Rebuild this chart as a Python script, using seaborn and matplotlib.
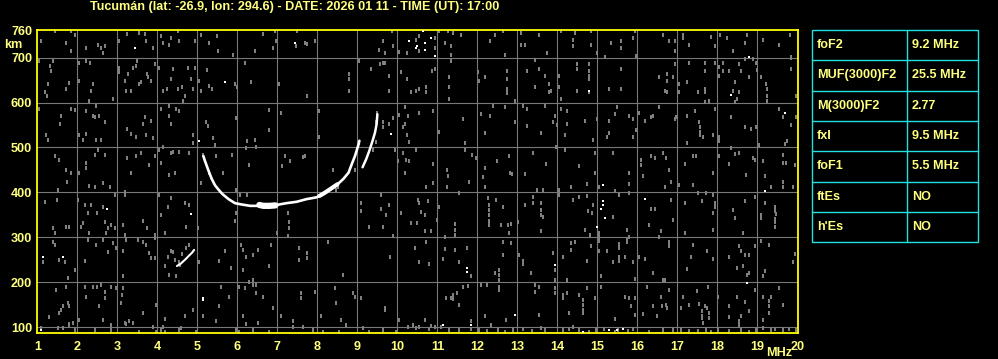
import matplotlib
matplotlib.use("Agg")
import matplotlib.pyplot as plt
import seaborn as sns
import pandas as pd
from matplotlib import font_manager as fm
from matplotlib.patches import Rectangle
from matplotlib.lines import Line2D

# ---------------- chart data ----------------
title = "Tucumán (lat: -26.9, lon: 294.6) - DATE: 2026 01 11 - TIME (UT): 17:00"
x_ticks = list(range(1, 21))
y_ticks = [100, 200, 300, 400, 500, 600, 700, 760]
x_grid = list(range(2, 20))
y_grid = [100, 200, 300, 400, 500, 600, 700]

table_params = ["foF2", "MUF(3000)F2", "M(3000)F2", "fxI", "foF1", "ftEs", "h'Es"]
table_values = ["9.2 MHz", "25.5 MHz", "2.77", "9.5 MHz", "5.5 MHz", "NO", "NO"]

# ordinary F trace (MHz, km)
o_trace_f = [5.15, 5.19, 5.28, 5.36, 5.44, 5.53, 5.63, 5.78, 5.94, 6.11, 6.32, 6.57, 6.78, 6.98,
             7.23, 7.48, 7.73, 7.98, 8.15, 8.32, 8.48, 8.65, 8.78, 8.86, 8.94, 9.03, 9.05]
o_trace_h = [481, 470, 448, 430, 416, 406, 396, 385, 376, 373, 370, 370, 370, 372,
             376, 379, 385, 389, 396, 407, 416, 430, 444, 463, 481, 507, 515]
# thick part of the trace near the minimum virtual height
o_blob_f = [6.55, 6.65, 6.8, 6.95]
o_blob_h = [372, 370, 370, 371]
# thicker part on the rising branch
o_thick_f = [8.05, 8.2, 8.35, 8.5]
o_thick_h = [392, 400, 409, 418]
# extraordinary trace
x_trace_f = [9.13, 9.22, 9.30, 9.38, 9.44, 9.48, 9.50]
x_trace_h = [456, 474, 493, 515, 533, 552, 574]
# weak lower trace
low_trace_f = [4.49, 4.58, 4.68, 4.78, 4.87, 4.92]
low_trace_h = [236, 241, 249, 258, 266, 272]

# bright isolated echoes (MHz, km)
white_dots = [(5.03, 515), (3.44, 721), (7.43, 733), (10.28, 737), (10.47, 722), (5.69, 645),
              (5.03, 514), (9.84, 529), (10.63, 760), (10.84, 743), (10.70, 733), (10.50, 726),
              (10.68, 717), (10.93, 703), (18.78, 702), (14.78, 626), (18.33, 617), (19.70, 577),
              (2.73, 364), (4.85, 352), (1.13, 257), (1.63, 257), (5.13, 164), (5.13, 160),
              (1.09, 94), (15.13, 417), (15.13, 381), (15.13, 373), (15.09, 364), (15.19, 344),
              (14.99, 324), (16.18, 385), (19.18, 403), (11.73, 231), (11.73, 222), (13.93, 238),
              (18.73, 198), (12.94, 126), (11.13, 104), (11.83, 104), (14.63, 90), (15.30, 94),
              (15.49, 94), (15.63, 95)]

# grey background noise, upper-left part
noise_upper_left = [
    (1.09, 737), (1.43, 759), (1.72, 733), (1.84, 759), (1.84, 715), (1.95, 751), (2.22, 722),
    (2.51, 729), (2.59, 722), (2.68, 726), (2.63, 711), (3.03, 737), (3.23, 753), (3.53, 755),
    (3.68, 753), (3.72, 737), (3.88, 722), (4.09, 748), (4.13, 733), (4.30, 729), (4.34, 744),
    (4.51, 759), (4.55, 737), (4.93, 737), (5.09, 751), (5.30, 733), (5.48, 748), (5.51, 715),
    (5.88, 707), (6.43, 715), (6.63, 753), (6.90, 722), (6.94, 760), (6.97, 737), (7.47, 726),
    (7.49, 759), (7.70, 733), (7.74, 731), (7.95, 737), (9.55, 718), (9.63, 737), (9.70, 711),
    (9.87, 759), (9.88, 726), (10.05, 713), (10.24, 711), (10.47, 740),
    (1.05, 693), (1.32, 682), (1.34, 671), (1.38, 693), (1.26, 641), (1.20, 623), (1.23, 615),
    (1.78, 643), (1.72, 630), (2.03, 689), (2.05, 649), (2.22, 693), (2.32, 689), (2.34, 626),
    (2.30, 604), (2.40, 641), (2.88, 608), (3.03, 678), (3.03, 667), (3.18, 649), (3.26, 663),
    (3.34, 626), (3.22, 626), (3.38, 678), (3.47, 682), (3.49, 693), (3.55, 641), (3.59, 645),
    (3.74, 663), (3.76, 656), (3.84, 649), (3.93, 685), (4.03, 678), (4.13, 626), (4.24, 630),
    (4.34, 652), (4.38, 674), (4.51, 630), (4.62, 634), (4.63, 604), (4.68, 615), (4.76, 678),
    (4.84, 652), (4.88, 630), (4.94, 678), (5.03, 649), (5.09, 626), (5.24, 672), (5.30, 637),
    (5.37, 630), (5.95, 641), (6.00, 634), (6.19, 689), (6.34, 645), (7.03, 641), (7.74, 615),
    (8.78, 663), (8.78, 652), (8.80, 626), (9.03, 693), (9.33, 674), (9.57, 685), (9.63, 689),
    (9.70, 687), (9.78, 660), (9.78, 626), (10.09, 667), (10.23, 652), (10.34, 623), (10.47, 626),
    (1.05, 586), (1.22, 527), (1.26, 516), (1.57, 553), (1.59, 571), (1.84, 586), (1.95, 584),
    (2.05, 527), (2.13, 516), (2.22, 531), (2.22, 582), (2.38, 571), (2.47, 593), (2.43, 568),
    (2.55, 571), (2.47, 516), (2.59, 516), (2.68, 557), (3.23, 542), (3.34, 531), (3.47, 524),
    (3.63, 553), (3.68, 568), (3.72, 527), (3.84, 560), (3.88, 520), (4.09, 586), (4.28, 593),
    (4.34, 553), (4.30, 571), (4.47, 586), (4.53, 582), (4.88, 527), (4.88, 511), (5.22, 557),
    (5.26, 547), (5.38, 520), (5.45, 505), (5.97, 566), (6.23, 514), (6.43, 516), (6.78, 584),
    (6.78, 538), (7.09, 577), (8.03, 581), (8.03, 524), (9.49, 577), (9.47, 557), (9.63, 557),
    (9.63, 546), (9.80, 553), (9.88, 566), (10.05, 573), (10.13, 546), (10.18, 590), (10.20, 553),
    (10.23, 527), (10.26, 571), (10.30, 513), (9.47, 513), (9.38, 494),
    (1.43, 480), (1.53, 472), (1.72, 450), (1.84, 443), (2.03, 443), (2.22, 466), (2.22, 454),
    (2.43, 483), (2.51, 494), (2.68, 483), (3.23, 476), (3.34, 443), (3.47, 480), (3.59, 488),
    (3.93, 480), (3.80, 461), (4.09, 465), (4.05, 494), (4.13, 500), (4.34, 488), (4.38, 490),
    (4.43, 443), (4.53, 490), (4.30, 439), (4.78, 488), (5.13, 483), (5.30, 443), (5.47, 480),
    (5.63, 443), (5.87, 483), (6.22, 498), (6.28, 461), (6.47, 500), (7.18, 480), (7.32, 469),
    (7.12, 458), (7.63, 479), (7.68, 482), (8.38, 449), (8.95, 449), (9.93, 494), (10.01, 469),
    (10.13, 487), (10.22, 472), (10.28, 469), (10.20, 444), (10.47, 494)]

# grey background noise, upper-right part
noise_upper_right = [
    (10.55, 748), (10.55, 715), (10.93, 744), (10.94, 722), (11.03, 759), (11.20, 733), (11.26, 759),
    (11.33, 726), (11.34, 707), (11.38, 755), (11.59, 751), (12.32, 737), (12.44, 751), (12.65, 760),
    (12.68, 707), (13.09, 755), (13.09, 729), (13.19, 729), (13.55, 751), (13.73, 711), (14.09, 759),
    (14.38, 740), (14.45, 755), (14.38, 726), (14.84, 760), (14.84, 729), (14.98, 711), (15.20, 701),
    (15.34, 733), (15.59, 737), (15.59, 721), (15.88, 744), (15.93, 760), (15.97, 704), (16.63, 751),
    (16.80, 737), (16.93, 715), (16.95, 737), (17.13, 751), (17.13, 744), (17.30, 729), (17.83, 745),
    (17.93, 726), (18.07, 751), (18.23, 743), (18.38, 715), (18.69, 733), (18.74, 751), (19.13, 740),
    (19.53, 729), (19.84, 701), (19.82, 751),
    (10.87, 671), (10.93, 674), (10.53, 630), (10.72, 623), (10.72, 634), (11.28, 656), (11.28, 634),
    (11.28, 608), (11.34, 693), (12.01, 667), (12.05, 649), (12.19, 656), (12.73, 671), (12.73, 652),
    (12.73, 630), (12.73, 621), (12.94, 604), (13.24, 671), (13.44, 695), (13.44, 634), (13.55, 674),
    (13.70, 660), (13.78, 641), (13.80, 623), (13.84, 626), (14.03, 660), (14.03, 634), (14.09, 608),
    (14.48, 685), (14.48, 674), (14.49, 626), (14.78, 685), (14.78, 671), (14.78, 660), (14.78, 652),
    (14.78, 623), (15.28, 630), (15.58, 674), (15.58, 630), (16.53, 656), (16.68, 626), (16.73, 663),
    (16.73, 649), (16.73, 623), (16.88, 656), (16.93, 685), (17.05, 641), (17.05, 623), (17.23, 645),
    (17.28, 689), (17.51, 623), (17.68, 689), (17.68, 671), (17.68, 630), (17.68, 623), (17.80, 604),
    (17.93, 689), (18.03, 680), (18.03, 660), (18.13, 689), (18.13, 671), (18.28, 671), (18.40, 626),
    (18.45, 645), (18.48, 608), (18.53, 623), (18.55, 685), (18.59, 671), (18.68, 696), (18.80, 656),
    (18.90, 696), (18.97, 687), (18.98, 672), (19.09, 657), (19.22, 641), (19.23, 630), (19.23, 615),
    (19.23, 603), (19.84, 700), (19.84, 674), (19.97, 615),
    (10.53, 577), (10.88, 581), (11.03, 535), (11.63, 564), (11.70, 510), (12.09, 574), (12.19, 532),
    (12.32, 571), (12.40, 593), (12.68, 590), (12.94, 557), (13.13, 593), (13.24, 586), (13.24, 547),
    (13.59, 532), (13.68, 593), (13.95, 571), (13.88, 556), (13.98, 551), (14.09, 586), (14.18, 527),
    (14.24, 553), (14.24, 581), (14.70, 559), (14.88, 516), (14.98, 564), (15.23, 524), (15.28, 559),
    (15.28, 532), (15.48, 590), (15.45, 574), (15.80, 571), (15.88, 564), (15.88, 524), (15.97, 538),
    (16.05, 577), (16.19, 559), (16.38, 571), (16.34, 568), (16.53, 590), (16.93, 564), (16.97, 568),
    (17.23, 570), (17.23, 510), (17.43, 582), (17.55, 557), (17.57, 546), (17.57, 535), (17.57, 527),
    (17.65, 524), (17.70, 601), (17.88, 527), (17.93, 586), (18.05, 524), (18.05, 514), (18.34, 568),
    (18.43, 601), (18.70, 546), (18.84, 542), (18.97, 546), (19.53, 586), (19.63, 568), (19.73, 514),
    (19.70, 508), (19.84, 551), (19.97, 568),
    (10.88, 463), (11.23, 449), (11.26, 437), (11.70, 494), (11.87, 484), (11.97, 476), (12.18, 454),
    (12.13, 434), (12.48, 470), (12.80, 480), (12.82, 443), (12.86, 441), (13.18, 441), (13.38, 488),
    (13.72, 463), (13.97, 500), (14.18, 494), (14.55, 458), (14.93, 487), (14.95, 443), (15.38, 487),
    (15.80, 443), (16.09, 472), (16.09, 460), (16.13, 437), (16.34, 481), (16.43, 476), (16.63, 487),
    (16.72, 476), (16.80, 449), (17.18, 463), (17.38, 480), (17.47, 480), (17.88, 443), (18.05, 480),
    (18.30, 463), (18.34, 498), (18.45, 485), (18.53, 488), (18.72, 439), (18.88, 476), (18.93, 472),
    (19.03, 505), (19.13, 469), (19.18, 437), (19.63, 484), (19.63, 465), (19.72, 465), (19.95, 460)]

# grey background noise, lower-left part
noise_lower_left = [
    (1.51, 405), (1.48, 383), (1.20, 379), (1.73, 424), (2.28, 414), (2.45, 413), (2.63, 421),
    (2.82, 413), (2.93, 394), (3.18, 394), (3.20, 401), (2.01, 383), (2.18, 372), (2.34, 372),
    (2.49, 353), (2.13, 331), (2.26, 353), (2.09, 324), (2.30, 309), (1.38, 320), (1.43, 309),
    (1.72, 324), (1.80, 324), (2.63, 368), (2.69, 335), (2.76, 320), (2.84, 327), (2.93, 320),
    (2.72, 309), (3.13, 327), (3.20, 305), (3.63, 337), (3.73, 320), (3.93, 305), (3.93, 298),
    (4.05, 394), (4.09, 350), (4.18, 309), (4.26, 368), (4.34, 387), (4.68, 376), (4.78, 372),
    (4.72, 324), (5.01, 320), (5.09, 421), (5.97, 405), (6.07, 394), (6.23, 394), (5.93, 337),
    (5.97, 353), (6.98, 309), (7.26, 353), (7.28, 335), (7.28, 320), (7.26, 303), (8.47, 405),
    (8.51, 413), (9.09, 376), (9.09, 359), (9.30, 324), (9.59, 394), (9.59, 364), (9.72, 350),
    (9.80, 372), (9.63, 324), (9.90, 303), (10.09, 353), (10.34, 331), (10.48, 331), (10.51, 383),
    (1.13, 244), (1.38, 290), (1.45, 283), (1.53, 250), (1.68, 246), (1.95, 227), (1.76, 209),
    (2.18, 248), (2.26, 294), (2.47, 283), (2.63, 293), (2.76, 268), (2.97, 276), (2.88, 287),
    (3.15, 270), (3.15, 213), (3.22, 293), (3.51, 293), (3.65, 290), (3.72, 283), (3.80, 266),
    (3.84, 253), (3.93, 253), (4.34, 270), (4.38, 268), (4.26, 257), (4.18, 235), (4.53, 246),
    (4.57, 238), (4.47, 213), (4.28, 216), (5.05, 244), (5.53, 248), (5.70, 270), (5.84, 231),
    (6.09, 283), (6.13, 272), (6.22, 257), (6.13, 227), (6.38, 261), (6.51, 272), (6.78, 235),
    (6.84, 283), (7.55, 276), (7.73, 264), (7.73, 253), (7.55, 250), (8.26, 290), (8.63, 216),
    (9.82, 257), (10.45, 276), (6.38, 205), (6.47, 194), (6.30, 201), (4.72, 276), (4.80, 282),
    (4.62, 262), (4.45, 250),
    (1.47, 183), (1.72, 190), (1.59, 138), (1.63, 147), (1.76, 153), (1.80, 147), (2.20, 190),
    (2.22, 168), (2.38, 190), (2.48, 190), (2.59, 193), (2.68, 179), (2.68, 164), (2.84, 190),
    (2.97, 187), (3.12, 172), (3.13, 187), (3.09, 153), (2.55, 147), (1.30, 122), (1.55, 131),
    (1.88, 110), (1.80, 105), (2.05, 116), (2.63, 116), (2.84, 105), (3.18, 109), (3.30, 113),
    (3.40, 110), (3.63, 131), (3.88, 101), (4.13, 101), (3.97, 150), (4.18, 118), (4.59, 98),
    (4.68, 124), (4.88, 138), (5.13, 124), (5.47, 113), (5.53, 147), (5.59, 190), (5.80, 168),
    (6.05, 190), (6.15, 124), (6.22, 107), (6.18, 187), (6.38, 194), (6.47, 177), (6.51, 110),
    (6.65, 168), (6.88, 142), (7.09, 125), (7.40, 113), (7.59, 176), (7.59, 164), (7.93, 179),
    (8.09, 125), (8.43, 187), (8.47, 153), (8.59, 116), (8.72, 105), (8.88, 176), (8.95, 168),
    (9.09, 164), (9.68, 142), (9.70, 138), (10.05, 116), (10.26, 101), (10.38, 105), (10.47, 98),
    (1.09, 98), (1.51, 98), (1.63, 98), (1.78, 107), (1.93, 94), (2.43, 94), (2.84, 94),
    (3.22, 107), (3.55, 90), (3.97, 90), (4.09, 94), (4.18, 90), (4.55, 94), (4.97, 90),
    (5.97, 94), (6.03, 90), (6.38, 94), (6.80, 90), (7.38, 101), (7.63, 101), (7.88, 94),
    (8.13, 90), (8.55, 90), (9.13, 98), (9.30, 90), (9.63, 94), (9.97, 90)]

# grey background noise, lower-right part
noise_lower_right = [
    (10.72, 413), (10.88, 421), (11.23, 413), (11.53, 398), (11.80, 424), (12.18, 413), (12.26, 387),
    (12.28, 372), (12.28, 361), (12.28, 350), (12.28, 337), (12.28, 327), (12.47, 383), (12.63, 368),
    (12.59, 327), (12.76, 327), (12.80, 309), (12.84, 330), (13.01, 333), (13.19, 372), (13.38, 390),
    (13.38, 376), (13.48, 405), (13.59, 376), (13.59, 361), (13.59, 350), (13.59, 313), (13.63, 405),
    (13.63, 346), (14.03, 405), (14.05, 394), (14.34, 413), (14.38, 383), (14.53, 390), (14.68, 316),
    (14.73, 419), (14.73, 392), (14.76, 359), (14.82, 305), (14.87, 353), (14.88, 372), (15.03, 413),
    (15.03, 305), (15.38, 346), (15.43, 404), (15.53, 394), (15.73, 316), (15.78, 419), (15.78, 398),
    (15.80, 301), (16.28, 327), (16.34, 364), (16.45, 364), (16.55, 301), (16.60, 313), (16.68, 413),
    (16.84, 424), (16.88, 339), (16.84, 383), (17.05, 416), (17.18, 377), (17.18, 309), (17.38, 416),
    (17.51, 398), (17.62, 381), (17.72, 398), (17.88, 394), (17.88, 355), (17.93, 376), (17.93, 368),
    (17.88, 316), (18.38, 361), (18.43, 342), (18.63, 310), (18.68, 381), (18.93, 390), (19.09, 350),
    (19.09, 342), (19.20, 377), (19.43, 368), (19.43, 359), (19.47, 352), (19.43, 340), (19.43, 333),
    (19.43, 324), (19.63, 424), (19.63, 413), (19.34, 411), (19.88, 413), (10.55, 376), (10.59, 357),
    (10.68, 350), (10.76, 381), (10.70, 315), (10.84, 313), (10.98, 339), (11.03, 368), (11.45, 330),
    (11.45, 316), (11.45, 305), (11.20, 301), (15.03, 309), (15.03, 300), (15.03, 292),
    (10.72, 290), (10.55, 246), (10.78, 241), (11.20, 273), (11.15, 251), (11.45, 272), (11.53, 246),
    (11.73, 276), (11.84, 213), (12.45, 221), (12.53, 227), (12.53, 216), (12.53, 205), (12.65, 261),
    (12.63, 290), (12.84, 288), (13.03, 261), (13.13, 248), (13.13, 241), (13.34, 221), (13.88, 266),
    (13.95, 227), (13.95, 205), (14.13, 256), (14.23, 205), (14.34, 288), (14.34, 272), (14.45, 290),
    (14.73, 248), (14.84, 281), (15.03, 270), (15.09, 213), (15.23, 270), (15.38, 244), (15.53, 286),
    (15.53, 276), (15.53, 256), (15.53, 248), (15.70, 256), (15.73, 294), (15.73, 289), (15.88, 244),
    (15.94, 207), (16.05, 256), (16.18, 251), (16.38, 220), (16.63, 205), (16.68, 205), (16.78, 290),
    (16.80, 281), (17.23, 229), (17.34, 257), (17.38, 283), (17.73, 270), (17.88, 251), (18.28, 256),
    (18.48, 231), (18.53, 281), (18.59, 270), (18.65, 235), (18.70, 261), (18.78, 261), (18.74, 216),
    (18.80, 221), (18.95, 281), (19.13, 213), (19.09, 292), (19.18, 226), (19.28, 283), (19.88, 246),
    (19.95, 263),
    (10.68, 116), (10.84, 103), (10.93, 101), (11.22, 164), (11.40, 172), (11.40, 162), (11.34, 164),
    (11.48, 177), (11.53, 150), (11.63, 190), (11.76, 192), (11.84, 113), (12.09, 194), (12.23, 194),
    (12.18, 124), (12.34, 105), (12.53, 189), (12.53, 183), (12.72, 115), (13.45, 194), (13.53, 190),
    (13.43, 179), (13.53, 127), (13.95, 187), (13.95, 176), (14.13, 172), (14.13, 164), (14.23, 176),
    (14.28, 131), (14.55, 172), (14.63, 161), (14.63, 150), (14.63, 138), (14.63, 131), (14.73, 187),
    (14.95, 164), (15.09, 190), (15.45, 118), (15.70, 168), (15.80, 164), (15.84, 146), (15.93, 127),
    (15.95, 164), (16.13, 130), (16.23, 190), (16.38, 146), (16.48, 125), (16.59, 168), (16.62, 147),
    (16.72, 150), (16.73, 142), (16.80, 183), (17.09, 142), (17.13, 168), (17.28, 150), (17.48, 181),
    (17.53, 152), (17.62, 135), (17.62, 125), (17.62, 120), (17.63, 109), (17.68, 146), (17.73, 142),
    (17.80, 131), (17.80, 120), (17.76, 190), (18.01, 168), (18.28, 147), (18.28, 122), (18.48, 168),
    (18.55, 113), (18.55, 105), (18.59, 125), (18.68, 155), (18.78, 135), (18.93, 183), (19.13, 168),
    (19.13, 116), (19.30, 159), (19.30, 146), (19.30, 131), (19.34, 168), (19.53, 187), (19.63, 150),
    (10.55, 101), (10.80, 95), (11.09, 101), (11.30, 94), (11.55, 94), (11.84, 95), (12.05, 94),
    (12.23, 92), (12.51, 94), (12.70, 90), (12.88, 94), (13.13, 95), (13.37, 92), (13.59, 98),
    (13.68, 94), (14.13, 94), (14.30, 95), (14.38, 101), (14.55, 94), (14.78, 90), (14.97, 94),
    (15.16, 95), (15.43, 90), (15.51, 94), (15.76, 92), (15.88, 95), (16.30, 90), (16.63, 94),
    (16.88, 94), (17.09, 94), (17.28, 92), (17.51, 92), (17.72, 94), (17.84, 90), (18.01, 94),
    (18.30, 92), (18.59, 94), (18.80, 90), (18.97, 94), (19.13, 98), (19.34, 94), (19.45, 95),
    (19.63, 94), (19.80, 95), (19.97, 94)]

# ---------------- styling ----------------
sns.set_style("dark")
names = {f.name for f in fm.fontManager.ttflist}
FONT = "Liberation Sans" if "Liberation Sans" in names else "DejaVu Sans"
plt.rcParams["font.family"] = [FONT, "DejaVu Sans"]
plt.rcParams["font.weight"] = "bold"

YEL_TXT = "#ffff80"
YEL_AX = "#ffff00"
CYAN = "#20e0e0"
GREY = "#808080"
GRID = "#787878"
FS = 9.1

# short vertical dash marker, like the echo pixels of the ionogram
DASH = [(-2, -3), (2, -3), (2, 3), (-2, 3), (-2, -3)]

W, H = 998, 359
fig = plt.figure(figsize=(W / 100, H / 100), dpi=100, facecolor="black")
ax_l, ax_r, ax_t, ax_b = 36.5, 797.5, 29.8, 332.5
ax = fig.add_axes([ax_l / W, (H - ax_b) / H, (ax_r - ax_l) / W, (ax_b - ax_t) / H])
ax.set_facecolor("black")
ax.set_xlim(0.98, 20.0)
ax.set_ylim(88, 762)

for g in x_grid:
    ax.axvline(g, color=GRID, lw=0.8, zorder=1)
for g in y_grid:
    ax.axhline(g, color=GRID, lw=0.8, zorder=1)

noise = pd.DataFrame(noise_upper_left + noise_upper_right + noise_lower_left + noise_lower_right,
                     columns=["MHz", "km"])
sns.scatterplot(data=noise, x="MHz", y="km", ax=ax, color=GREY, marker=DASH, s=6.5,
                linewidth=0, zorder=2, legend=False, antialiased=False)
whites = pd.DataFrame(white_dots, columns=["MHz", "km"])
sns.scatterplot(data=whites, x="MHz", y="km", ax=ax, color="white", marker="s", s=4.5,
                linewidth=0, zorder=3, legend=False, antialiased=False)

for fx, hy, lw in [(o_trace_f, o_trace_h, 1.9), (o_blob_f, o_blob_h, 4.5),
                   (o_thick_f, o_thick_h, 3.0),
                   (x_trace_f, x_trace_h, 1.8), (low_trace_f, low_trace_h, 1.5)]:
    sns.lineplot(x=fx, y=hy, ax=ax, color="white", lw=lw, zorder=4, estimator=None,
                 sort=False, legend=False)

ax.set_xticks(x_ticks)
ax.set_xticklabels([str(t) for t in x_ticks])
ax.set_yticks(y_ticks)
ax.set_yticklabels([str(t) for t in y_ticks])
ax.tick_params(axis="both", length=0, colors=YEL_TXT, labelsize=FS)
ax.tick_params(axis="x", pad=6)
ax.tick_params(axis="y", pad=3)
for lab in ax.get_xticklabels() + ax.get_yticklabels():
    lab.set_fontweight("bold")
ax.set_xlabel("")
ax.set_ylabel("")
ax.grid(False)
for sp in ax.spines.values():
    sp.set_color(YEL_AX)
    sp.set_linewidth(1.3)
    sp.set_visible(True)

fig.text(13 / W, 1 - 45 / H, "km", color=YEL_TXT, fontsize=FS, fontweight="bold",
         ha="center", va="center")
fig.text(779 / W, 1 - 352.5 / H, "MHz", color=YEL_TXT, fontsize=FS, fontweight="bold",
         ha="center", va="center")
fig.text(90 / W, 1 - 7 / H, title, color=YEL_TXT, fontsize=FS, fontweight="bold",
         ha="left", va="center")

# parameter table
t_left, t_mid, t_right, t_top, t_bot = 812, 907, 978, 30, 242.3
row_h = (t_bot - t_top) / len(table_params)
fig.patches.append(Rectangle((t_left / W, 1 - t_bot / H), (t_right - t_left) / W,
                             (t_bot - t_top) / H, transform=fig.transFigure, fill=False,
                             edgecolor=CYAN, lw=1.0))
fig.lines.append(Line2D([t_mid / W, t_mid / W], [1 - t_top / H, 1 - t_bot / H],
                        transform=fig.transFigure, color=CYAN, lw=1.0))
for i, (p, v) in enumerate(zip(table_params, table_values)):
    if i > 0:
        yy = 1 - (t_top + i * row_h) / H
        fig.lines.append(Line2D([t_left / W, t_right / W], [yy, yy],
                                transform=fig.transFigure, color=CYAN, lw=1.0))
    yc = 1 - (t_top + (i + 0.5) * row_h) / H
    fig.text((t_left + 5) / W, yc, p, color=YEL_TXT, fontsize=FS, fontweight="bold",
             ha="left", va="center")
    fig.text((t_mid + 5) / W, yc, v, color=YEL_TXT, fontsize=FS, fontweight="bold",
             ha="left", va="center")

fig.savefig("out.png", dpi=100, facecolor="black")
